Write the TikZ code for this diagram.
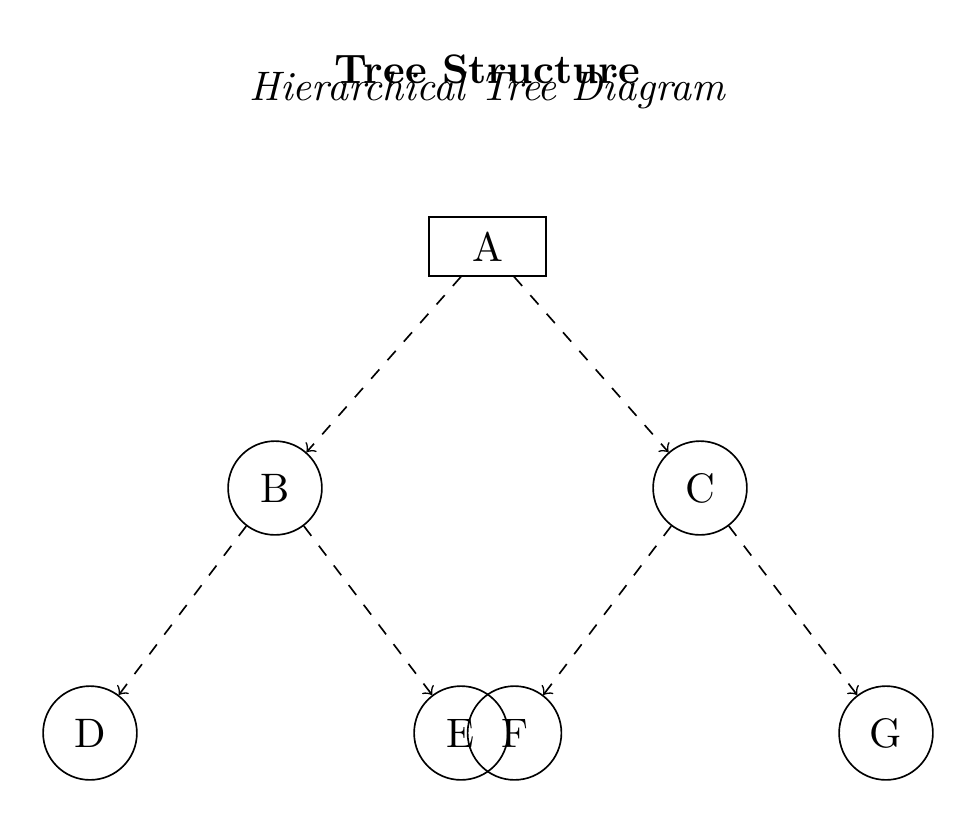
\documentclass[tikz,border=0pt]{standalone}
\begin{document}
\begin{tikzpicture}[
  x=0.008525cm, y=-0.008525cm,
  treenode/.style={circle, draw, minimum size=0.8cm, inner sep=0pt},
  rootnode/.style={rectangle, draw, minimum width=1cm, minimum height=0.5cm},
  treeedge/.style={->, dashed}
]
\useasboundingbox (0,0) rectangle (976,824);
\node[font=\bfseries, anchor=base] (title) at (487.5,83.3) {Tree Structure};
\node[font=\itshape, anchor=base] (subtitle) at (487.5,100) {Hierarchical Tree Diagram};
\node[rootnode] (A) at (487.5,246.5) {A};
\node[treenode] (B) at (275,488) {B};
\node[treenode] (C) at (700,488) {C};
\node[treenode] (D) at (90,733) {D};
\node[treenode] (E) at (461,733) {E};
\node[treenode] (F) at (514.5,733) {F};
\node[treenode] (G) at (886,733) {G};
\draw[treeedge] (A) -- (B);
\draw[treeedge] (A) -- (C);
\draw[treeedge] (B) -- (D);
\draw[treeedge] (B) -- (E);
\draw[treeedge] (C) -- (F);
\draw[treeedge] (C) -- (G);
\end{tikzpicture}
\end{document}
